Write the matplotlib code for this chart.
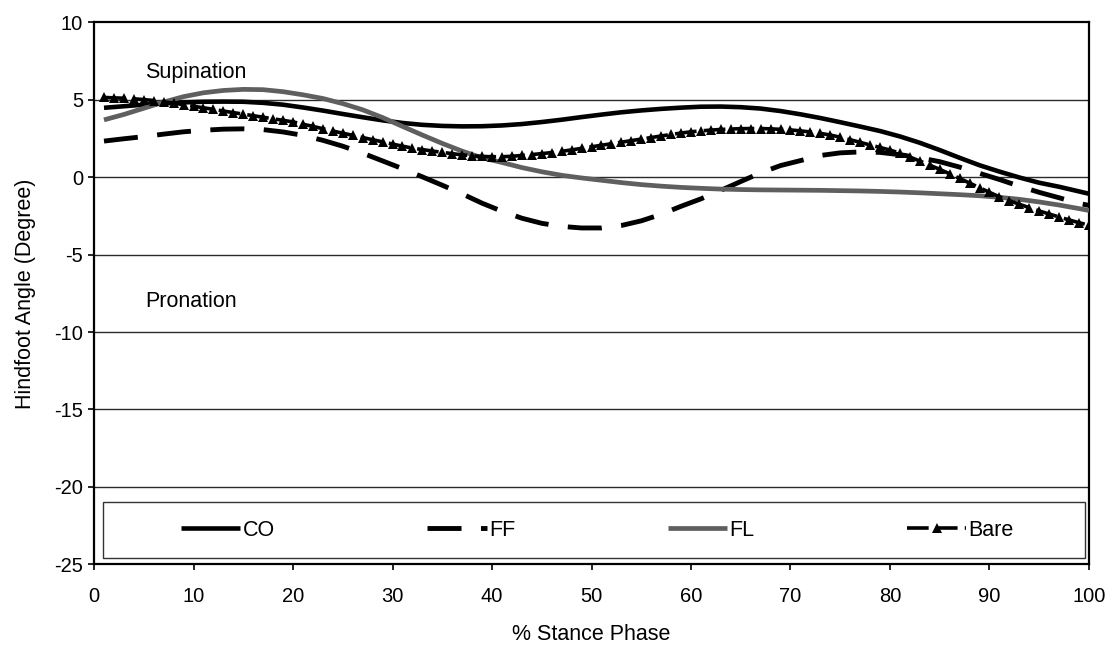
import matplotlib
matplotlib.use("Agg")
import matplotlib.pyplot as plt
from matplotlib.lines import Line2D
from matplotlib.patches import Rectangle

plt.rcParams['font.family'] = ['Liberation Sans', 'DejaVu Sans']
plt.rcParams['axes.unicode_minus'] = False

# % stance phase sample points
stance_sparse = list(range(1, 100, 2)) + [100]
stance_full = list(range(1, 101))

co = [4.48, 4.58, 4.68, 4.76, 4.83, 4.87, 4.88, 4.87, 4.80, 4.68,
      4.50, 4.30, 4.08, 3.87, 3.67, 3.50, 3.38, 3.31, 3.28, 3.29,
      3.34, 3.43, 3.56, 3.71, 3.88, 4.04, 4.19, 4.31, 4.41, 4.49,
      4.55, 4.56, 4.52, 4.43, 4.27, 4.06, 3.82, 3.55, 3.27, 2.98,
      2.63, 2.22, 1.75, 1.25, 0.77, 0.36, -0.02, -0.36, -0.62, -0.92,
      -1.07]

ff = [2.33, 2.48, 2.62, 2.78, 2.93, 3.03, 3.10, 3.12, 3.07, 2.92,
      2.70, 2.38, 2.00, 1.55, 1.05, 0.55, 0.02, -0.52, -1.08, -1.68,
      -2.20, -2.65, -2.98, -3.18, -3.28, -3.28, -3.12, -2.82, -2.40, -1.88,
      -1.40, -0.85, -0.28, 0.28, 0.75, 1.07, 1.40, 1.57, 1.63, 1.60,
      1.45, 1.25, 1.00, 0.65, 0.25, -0.15, -0.58, -0.98, -1.33, -1.70,
      -1.82]

fl = [3.70, 4.05, 4.45, 4.85, 5.20, 5.45, 5.60, 5.67, 5.65, 5.52,
      5.32, 5.08, 4.75, 4.35, 3.85, 3.28, 2.72, 2.18, 1.68, 1.25,
      0.95, 0.62, 0.35, 0.12, -0.05, -0.20, -0.35, -0.48, -0.58, -0.66,
      -0.72, -0.77, -0.80, -0.82, -0.83, -0.84, -0.85, -0.87, -0.89, -0.92,
      -0.96, -1.01, -1.07, -1.13, -1.20, -1.30, -1.43, -1.60, -1.80, -2.03,
      -2.15]

bare = [5.15, 5.12, 5.10, 5.06, 5.01, 4.95, 4.87, 4.78, 4.68, 4.58,
        4.48, 4.38, 4.27, 4.17, 4.07, 3.97, 3.87, 3.77, 3.67, 3.57,
        3.42, 3.28, 3.13, 2.98, 2.84, 2.70, 2.56, 2.42, 2.28, 2.14,
        2.00, 1.88, 1.78, 1.69, 1.60, 1.52, 1.44, 1.38, 1.34, 1.32,
        1.32, 1.35, 1.40, 1.46, 1.52, 1.59, 1.67, 1.76, 1.86, 1.96,
        2.06, 2.16, 2.26, 2.36, 2.46, 2.56, 2.66, 2.76, 2.85, 2.93,
        2.99, 3.04, 3.08, 3.11, 3.13, 3.14, 3.14, 3.12, 3.09, 3.05,
        2.99, 2.92, 2.83, 2.72, 2.58, 2.42, 2.25, 2.08, 1.92, 1.75,
        1.55, 1.30, 1.04, 0.78, 0.50, 0.22, -0.08, -0.38, -0.68, -0.98,
        -1.27, -1.52, -1.75, -1.97, -2.18, -2.38, -2.57, -2.76, -2.94, -3.10]

series_names = ["CO", "FF", "FL", "Bare"]
x_ticks = [0, 10, 20, 30, 40, 50, 60, 70, 80, 90, 100]
y_ticks = [-25, -20, -15, -10, -5, 0, 5, 10]

fig = plt.figure(figsize=(11.13, 6.45), dpi=100)
ax = fig.add_axes([0.0845, 0.1251, 0.8939, 0.8403])

ax.set_xlim(0, 100)
ax.set_ylim(-25, 10)
ax.set_xticks(x_ticks)
ax.set_yticks(y_ticks)
ax.tick_params(axis='both', direction='out', length=4.5, width=1.2,
               labelsize=14.5, colors='black')
ax.tick_params(axis='x', pad=12)
ax.tick_params(axis='y', pad=3.5)

for spine in ax.spines.values():
    spine.set_linewidth(1.6)
    spine.set_color('black')

# horizontal gridlines
for yv in [5, 0, -5, -10, -15, -20]:
    ax.axhline(yv, color='#2a2a2a', lw=1.0, zorder=1)

co_style = dict(color='black', lw=3.3, solid_capstyle='butt')
ff_style = dict(color='black', lw=3.5, dashes=(7.0, 4.0), dash_capstyle='butt')
fl_style = dict(color='#5f5f5f', lw=3.4, solid_capstyle='butt')
bare_style = dict(color='black', lw=2.6, dashes=(6, 2), marker='^',
                  markersize=7.5, markeredgewidth=0)

ax.plot(stance_sparse, co, zorder=3, **co_style)
ax.plot(stance_sparse, ff, zorder=3, **ff_style)
ax.plot(stance_sparse, fl, zorder=3, **fl_style)
ax.plot(stance_full, bare, zorder=4, **bare_style)

ax.text(5.1, 6.43, "Supination", fontsize=15.5, va='baseline', ha='left')
ax.text(5.1, -8.36, "Pronation", fontsize=15.5, va='baseline', ha='left')

ax.set_xlabel("% Stance Phase", fontsize=15.5, labelpad=13)
ax.set_ylabel("Hindfoot Angle (Degree)", fontsize=15.5, labelpad=13)

# legend box spanning the plot width
ax.add_patch(Rectangle((0.009, 0.0116), 0.987, 0.104, transform=ax.transAxes,
                       fill=False, edgecolor='#333333', lw=1.0, zorder=5))

handles = [
    Line2D([], [], **co_style),
    Line2D([], [], **ff_style),
    Line2D([], [], **fl_style),
    Line2D([], [], **bare_style),
]
ax.legend(handles, series_names, loc='center',
          bbox_to_anchor=(0.506, 0.063), ncol=4, frameon=False,
          fontsize=15.5, handlelength=2.75, handletextpad=0.1,
          columnspacing=7.1, numpoints=1)

fig.savefig("out.png", dpi=100, facecolor='white')
